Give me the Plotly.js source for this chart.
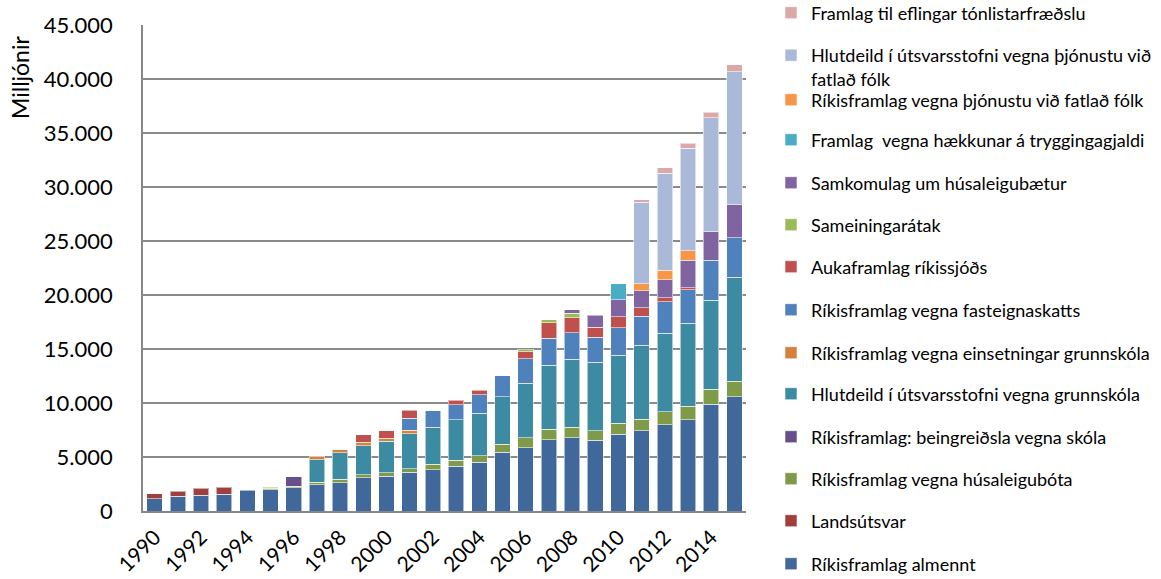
<!DOCTYPE html>
<html>
<head>
<meta charset="utf-8">
<script src="https://cdn.plot.ly/plotly-3.0.1.min.js"></script>
<style>
  html, body { margin: 0; padding: 0; background: #ffffff; }
  #chart { width: 1161px; height: 579px; }
</style>
</head>
<body>
<div id="chart"></div>
<script>
// Framlög til sveitarfélaga 1990–2015, milljónir króna
const years = [1990, 1991, 1992, 1993, 1994, 1995, 1996, 1997, 1998, 1999, 2000, 2001, 2002,
               2003, 2004, 2005, 2006, 2007, 2008, 2009, 2010, 2011, 2012, 2013, 2014, 2015];

// Series names, bottom of the stack first
const seriesNames = [
  "Ríkisframlag almennt",
  "Landsútsvar",
  "Ríkisframlag vegna húsaleigubóta",
  "Ríkisframlag: beingreiðsla vegna skóla",
  "Hlutdeild í útsvarsstofni vegna grunnskóla",
  "Ríkisframlag vegna einsetningar grunnskóla",
  "Ríkisframlag vegna fasteignaskatts",
  "Aukaframlag ríkissjóðs",
  "Sameiningarátak",
  "Samkomulag um húsaleigubætur",
  "Framlag  vegna hækkunar á tryggingagjaldi",
  "Ríkisframlag vegna þjónustu við fatlað fólk",
  "Hlutdeild í útsvarsstofni vegna þjónustu við<br>fatlað fólk",
  "Framlag til eflingar tónlistarfræðslu"
];

const rikisframlagAlmennt = [1150, 1360, 1450, 1570, 1940, 1980, 2160, 2450, 2620, 3080, 3210, 3600, 3820,
                             4160, 4530, 5440, 5870, 6620, 6800, 6550, 7100, 7410, 7990, 8460, 9880, 10590];
const landsutsvar         = [450, 490, 650, 650, 0, 0, 0, 0, 0, 0, 0, 0, 0,
                             0, 0, 0, 0, 0, 0, 0, 0, 0, 0, 0, 0, 0];
const husaleigubotar      = [0, 0, 0, 0, 0, 150, 150, 210, 310, 300, 330, 290, 490,
                             560, 590, 740, 900, 950, 960, 870, 1020, 1080, 1180, 1230, 1390, 1420];
const beingreidslaSkola   = [0, 0, 0, 0, 0, 0, 870, 0, 0, 0, 0, 0, 0,
                             0, 0, 0, 0, 0, 0, 0, 0, 0, 0, 0, 0, 0];
const hlutdeildGrunnskola = [0, 0, 0, 0, 0, 0, 0, 2070, 2470, 2660, 2900, 3270, 3460,
                             3710, 3950, 4420, 5070, 5940, 6300, 6370, 6300, 6850, 7280, 7690, 8240, 9630];
const einsetningGrunnsk   = [0, 0, 0, 0, 0, 0, 0, 310, 280, 310, 280, 310, 0,
                             0, 0, 0, 0, 0, 0, 0, 0, 0, 0, 0, 0, 0];
const fasteignaskattur    = [0, 0, 0, 0, 0, 0, 0, 0, 0, 0, 0, 1140, 1510,
                             1420, 1700, 1920, 2260, 2500, 2450, 2280, 2560, 2680, 2930, 3110, 3700, 3640];
const aukaframlag         = [0, 0, 0, 0, 0, 0, 0, 0, 0, 710, 710, 740, 0,
                             400, 400, 0, 640, 1420, 1390, 930, 1020, 810, 370, 160, 0, 0];
const sameiningaratak     = [0, 0, 0, 0, 0, 90, 0, 0, 0, 0, 0, 0, 0,
                             0, 0, 0, 190, 280, 430, 0, 0, 0, 0, 0, 0, 0];
const samkomulagHusaleiga = [0, 0, 0, 0, 0, 0, 0, 0, 0, 0, 0, 0, 0,
                             0, 0, 0, 0, 0, 310, 1140, 1540, 1570, 1670, 2590, 2650, 3080];
const tryggingagjald      = [0, 0, 0, 0, 0, 0, 0, 0, 0, 0, 0, 0, 0,
                             0, 0, 0, 0, 0, 0, 0, 1480, 0, 0, 0, 0, 0];
const rikisframlagFatlad  = [0, 0, 0, 0, 0, 0, 0, 0, 0, 0, 0, 0, 0,
                             0, 0, 0, 0, 0, 0, 0, 0, 620, 860, 860, 0, 0];
const hlutdeildFatlad     = [0, 0, 0, 0, 0, 0, 0, 0, 0, 0, 0, 0, 0,
                             0, 0, 0, 0, 0, 0, 0, 0, 7560, 8990, 9480, 10530, 12320];
const tonlistarfraedsla   = [0, 0, 0, 0, 0, 0, 0, 0, 0, 0, 0, 0, 0,
                             0, 0, 0, 0, 0, 0, 0, 0, 250, 520, 490, 520, 620];

const seriesValues = [rikisframlagAlmennt, landsutsvar, husaleigubotar, beingreidslaSkola,
  hlutdeildGrunnskola, einsetningGrunnsk, fasteignaskattur, aukaframlag, sameiningaratak,
  samkomulagHusaleiga, tryggingagjald, rikisframlagFatlad, hlutdeildFatlad, tonlistarfraedsla];

const seriesColors = ["#41689B", "#A0403E", "#7F9A48", "#664F8C", "#3C8BA3", "#D5813E", "#4F81BD",
                      "#C0504D", "#9BBB59", "#8064A2", "#4BACC6", "#F79646", "#AAB9D7", "#DCA8A7"];

// Legend rows: pixel height (from the top) of each entry's first line, same order as the series
const legendRowPx = [564, 521, 479, 437, 394, 353, 310, 267, 225, 183, 140, 100, 55, 13];

const W = 1161, H = 579;
const FONT = "Lato, 'Open Sans', sans-serif";

const traces = seriesNames.map((name, i) => ({
  type: "bar",
  name: name,
  x: years,
  y: seriesValues[i].map(v => (v === 0 ? null : v)),
  legend: "legend" + (i + 2),
  showlegend: true,
  marker: { color: seriesColors[i], line: { color: "rgba(255,255,255,0.55)", width: 1 } },
  hovertemplate: "%{x}: %{y:,}<extra>" + name.replace("<br>", " ") + "</extra>"
}));

const layout = {
  width: W,
  height: H,
  margin: { l: 143, r: 415, t: 25, b: 68 },
  paper_bgcolor: "#ffffff",
  plot_bgcolor: "#ffffff",
  separators: ",.",
  barmode: "stack",
  bargap: 0.33,
  showlegend: true,
  font: { family: FONT, color: "#000000" },
  xaxis: {
    range: [1989.5, 2015.5],
    tickmode: "array",
    tickvals: years.filter(y => y % 2 === 0),
    ticktext: years.filter(y => y % 2 === 0).map(String),
    tickangle: -45,
    tickfont: { size: 21, family: FONT, color: "#000" },
    ticklabelstandoff: 4,
    showgrid: false,
    showline: true,
    linecolor: "#878787",
    linewidth: 1.5,
    ticks: "",
    fixedrange: true
  },
  yaxis: {
    range: [0, 45000],
    dtick: 5000,
    tick0: 0,
    tickformat: ",d",
    tickfont: { size: 22, family: FONT, color: "#000" },
    showgrid: true,
    gridcolor: "#8A8A8A",
    gridwidth: 1.5,
    showline: true,
    linecolor: "#878787",
    linewidth: 1.5,
    zeroline: false,
    ticks: "",
    ticklabelstandoff: 24,
    fixedrange: true
  },
  annotations: [{
    text: "Milljónir",
    textangle: -90,
    xref: "paper", yref: "paper",
    x: (20 - 143) / 603, y: (511 - 78) / 486,
    xanchor: "center", yanchor: "middle",
    showarrow: false,
    font: { size: 23, family: FONT, color: "#000" }
  }]
};

// One legend box per series so each row sits at its own height
seriesNames.forEach((name, i) => {
  const key = "legend" + (i + 2);
  const twoLines = name.indexOf("<br>") >= 0;
  const centerPx = twoLines ? legendRowPx[i] + 12 : legendRowPx[i];
  layout[key] = {
    visible: true,
    xref: "container", yref: "container",
    x: 771 / W,
    y: 1 - centerPx / H,
    xanchor: "left", yanchor: "middle",
    valign: "top",
    bgcolor: "rgba(0,0,0,0)",
    borderwidth: 0,
    font: { size: 18, family: FONT, color: "#000" },
    itemclick: false, itemdoubleclick: false
  };
});

Plotly.newPlot("chart", traces, layout, { displayModeBar: false, responsive: false });
</script>
</body>
</html>
